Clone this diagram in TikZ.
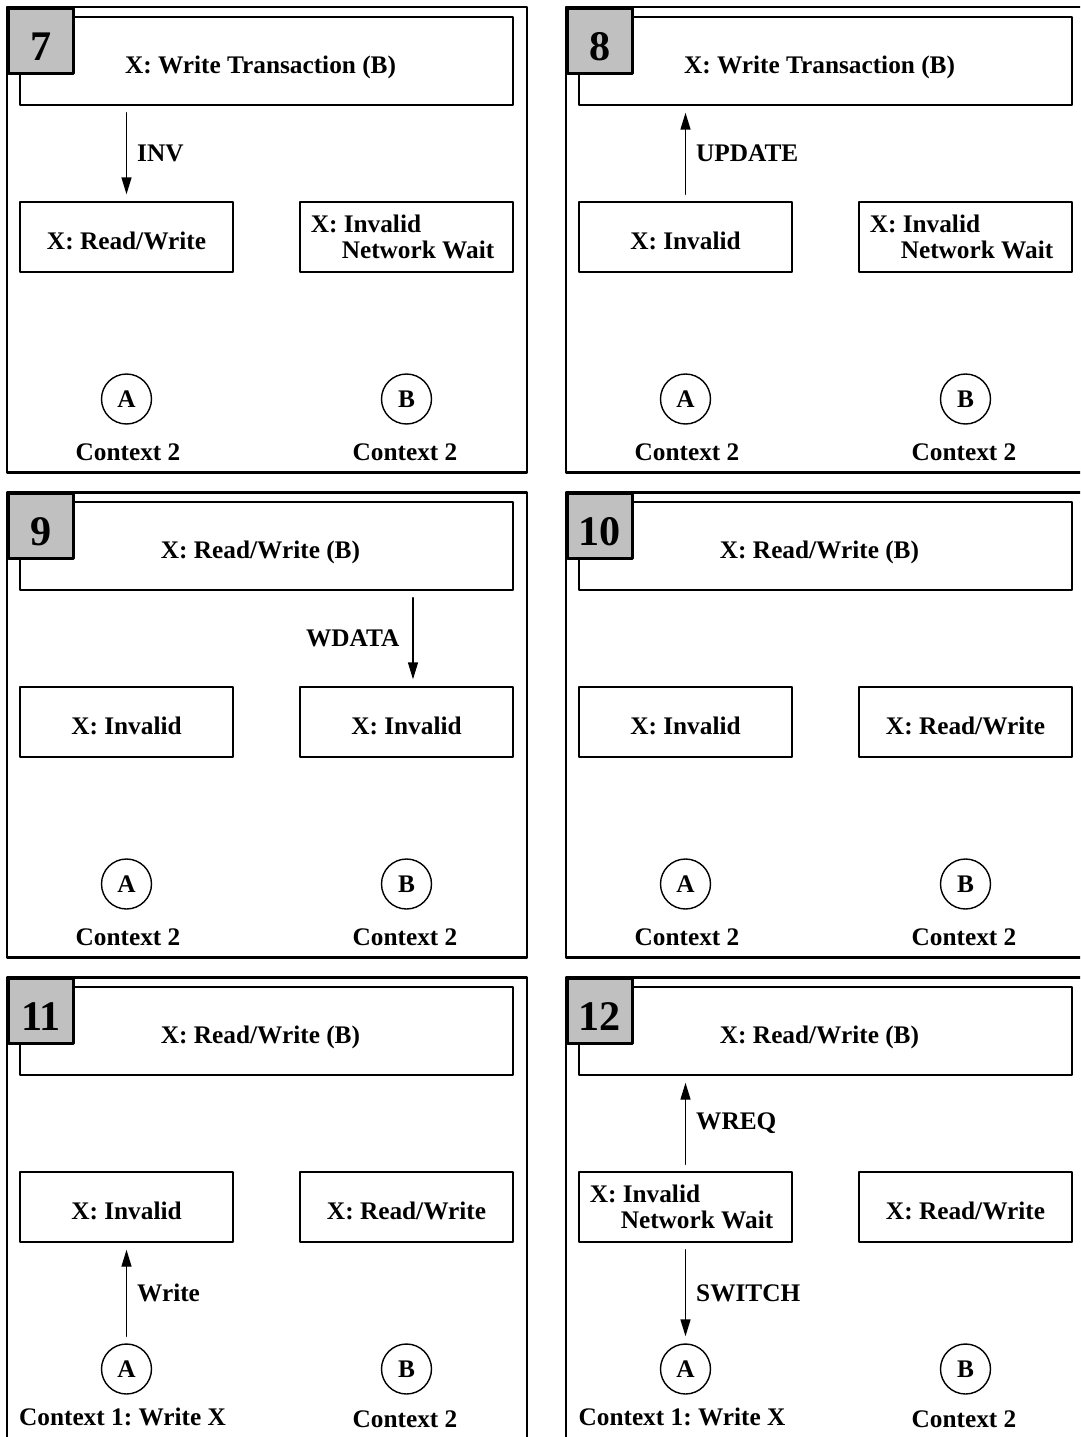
\documentclass[tikz,border=0pt]{standalone}
\usepackage{fontspec}
\setmainfont{Liberation Serif}
\usetikzlibrary{arrows.meta}
\definecolor{cqcqcq}{rgb}{0.7529411764705882,0.7529411764705882,0.7529411764705882}
\frenchspacing

\begin{document}
\begin{tikzpicture}[line cap=round,line join=round,x=0.02cm,y=-0.02cm,
    font=\fontsize{14.4}{14.4}\selectfont\bfseries,
    panel/.style={line width=1.7pt},
    numbox/.style={draw,line width=1.7pt,fill=cqcqcq,anchor=north west,minimum size=1.3cm,inner sep=0pt,
      text height=0.77cm,text depth=0pt,font=\fontsize{24}{24}\selectfont\bfseries},
    tbox/.style={draw,line width=0.8pt,minimum width=9.86cm,minimum height=1.76cm,inner sep=0pt,
      text height=0.6cm,text depth=0.1cm,execute at end node=\hspace*{0.24cm}},
    cellbase/.style={draw,line width=0.8pt,minimum width=4.26cm,minimum height=1.4cm,inner sep=0pt,align=left},
    cell/.style={cellbase,text height=0.6cm,text depth=0.1cm},
    cell2/.style={cellbase,execute at end node=\hspace*{0.16cm}},
    ctx/.style={draw,circle,line width=0.8pt,minimum size=1cm,inner sep=0pt},
    msg/.style={line width=0.8pt,-{Triangle[length=3.4mm,width=2mm]},shorten <=0.14cm,shorten >=0.14cm},
    lbl/.style={inner sep=0pt}]
    \useasboundingbox (0,0) rectangle (1080,1437);
    \clip (0,0) rectangle (1080,1437);
    \draw [panel] (7,7) rectangle (527,472);
    \node [tbox] (t7) at (266.5,61) {X: Write Transaction (B)};
    \node [cell] (l7) at (126.5,237) {X: Read/Write};
    \node [cell2] (r7) at (406.5,237) {X: Invalid\\\hspace*{0.62cm}Network Wait};
    \node [ctx] (a7) at (126.5,399) {A};
    \node [ctx] (b7) at (406.5,399) {B};
    \node (ca7) at (128,452) {Context 2};
    \node (cb7) at (405,452) {Context 2};
    \draw [msg] (t7.south -| l7.north) -- (l7.north) node [lbl,midway,right=0.2cm] {INV};
    \node [numbox] (n7) at (7,7) {7};
    \draw [panel] (566,7) rectangle (1086,472);
    \node [tbox] (t8) at (825.5,61) {X: Write Transaction (B)};
    \node [cell] (l8) at (685.5,237) {X: Invalid};
    \node [cell2] (r8) at (965.5,237) {X: Invalid\\\hspace*{0.62cm}Network Wait};
    \node [ctx] (a8) at (685.5,399) {A};
    \node [ctx] (b8) at (965.5,399) {B};
    \node (ca8) at (687,452) {Context 2};
    \node (cb8) at (964,452) {Context 2};
    \draw [msg] (l8.north) -- (l8.north |- t8.south) node [lbl,midway,right=0.2cm] {UPDATE};
    \node [numbox] (n8) at (566,7) {8};
    \draw [panel] (7,492) rectangle (527,957);
    \node [tbox] (t9) at (266.5,546) {X: Read/Write (B)};
    \node [cell] (l9) at (126.5,722) {X: Invalid};
    \node [cell] (r9) at (406.5,722) {X: Invalid};
    \node [ctx] (a9) at (126.5,884) {A};
    \node [ctx] (b9) at (406.5,884) {B};
    \node (ca9) at (128,937) {Context 2};
    \node (cb9) at (405,937) {Context 2};
    \coordinate (w9) at ([xshift=0.13cm]r9.north);
    \draw [msg] (w9 |- t9.south) -- (w9) node [lbl,midway,left=0.26cm] {WDATA};
    \node [numbox] (n9) at (7,492) {9};
    \draw [panel] (566,492) rectangle (1086,957);
    \node [tbox] (t10) at (825.5,546) {X: Read/Write (B)};
    \node [cell] (l10) at (685.5,722) {X: Invalid};
    \node [cell] (r10) at (965.5,722) {X: Read/Write};
    \node [ctx] (a10) at (685.5,884) {A};
    \node [ctx] (b10) at (965.5,884) {B};
    \node (ca10) at (687,937) {Context 2};
    \node (cb10) at (964,937) {Context 2};
    \node [numbox] (n10) at (566,492) {10};
    \draw [panel] (7,977) rectangle (527,1442);
    \node [tbox] (t11) at (266.5,1031) {X: Read/Write (B)};
    \node [cell] (l11) at (126.5,1207) {X: Invalid};
    \node [cell] (r11) at (406.5,1207) {X: Read/Write};
    \node [ctx] (a11) at (126.5,1369) {A};
    \node [ctx] (b11) at (406.5,1369) {B};
    \node (ca11) at (122.5,1417) {Context 1: Write X};
    \node (cb11) at (405,1419) {Context 2};
    \draw [msg] (a11.north) -- (l11.south) node [lbl,midway,right=0.2cm] {Write};
    \node [numbox] (n11) at (7,977) {11};
    \draw [panel] (566,977) rectangle (1086,1442);
    \node [tbox] (t12) at (825.5,1031) {X: Read/Write (B)};
    \node [cell2] (l12) at (685.5,1207) {X: Invalid\\\hspace*{0.62cm}Network Wait};
    \node [cell] (r12) at (965.5,1207) {X: Read/Write};
    \node [ctx] (a12) at (685.5,1369) {A};
    \node [ctx] (b12) at (965.5,1369) {B};
    \node (ca12) at (682,1417) {Context 1: Write X};
    \node (cb12) at (964,1419) {Context 2};
    \draw [msg] (l12.north) -- (l12.north |- t12.south) node [lbl,midway,right=0.2cm] {WREQ};
    \draw [msg] (l12.south) -- (a12.north) node [lbl,midway,right=0.2cm] {SWITCH};
    \node [numbox] (n12) at (566,977) {12};
\end{tikzpicture}
\end{document}
